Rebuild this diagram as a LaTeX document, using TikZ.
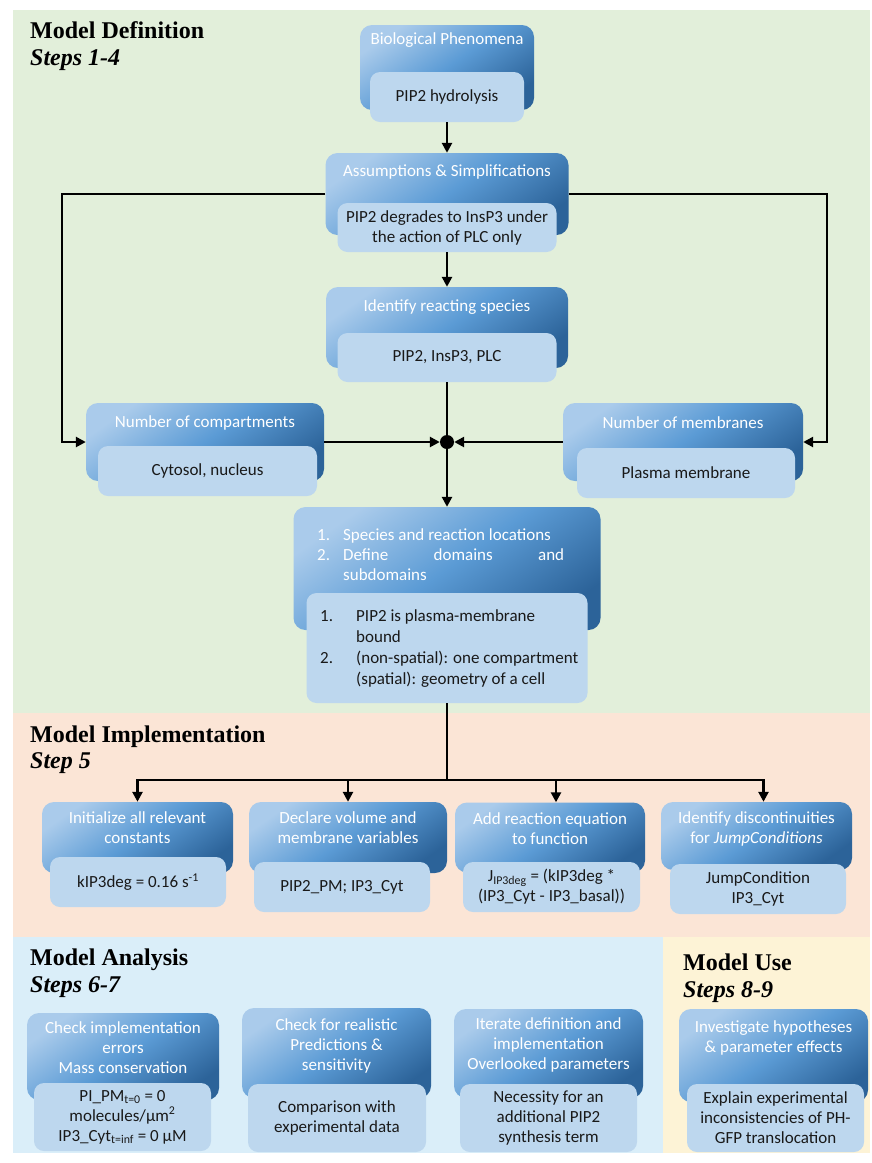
\documentclass[tikz,border=0pt]{standalone}
\usepackage{fontspec}
\setmainfont{Carlito}
\newfontfamily\headfont{Liberation Serif}
\usetikzlibrary{arrows.meta}

\definecolor{defgreen}{HTML}{E2EFDA}
\definecolor{implpeach}{HTML}{FBE5D6}
\definecolor{analblue}{HTML}{DAEEF9}
\definecolor{useyellow}{HTML}{FDF3D6}
\definecolor{hdrtop}{HTML}{AACBEB}
\definecolor{hdrmid}{HTML}{5B9BD5}
\definecolor{hdrbot}{HTML}{2C6399}
\definecolor{bdyblue}{HTML}{BDD7EE}

\begin{document}
\begin{tikzpicture}[x=1pt,y=-1pt,
    hdr/.style={rounded corners=12pt,top color=hdrtop,bottom color=hdrbot,middle color=hdrmid,shading angle=35,inner sep=0pt},
    bdy/.style={rounded corners=10pt,fill=bdyblue,inner sep=0pt,align=center,text=black!90,font=\fontsize{17}{20}\selectfont},
    ttl/.style={text=white,align=center,inner sep=0pt,font=\fontsize{17}{20}\selectfont},
    txt/.style={text=black!90,inner sep=0pt,font=\fontsize{17}{20}\selectfont},
    head/.style={anchor=base west,inner sep=0pt,font=\headfont\bfseries\fontsize{24}{28}\selectfont},
    arr/.style={line width=2.8pt,-{Triangle[length=10pt,width=10pt]}},
    lnk/.style={line width=2.8pt}]
\useasboundingbox (0,0) rectangle (871,1163);

% panels
\fill[defgreen] (13,10) rectangle (870,713);
\fill[implpeach] (13,713) rectangle (870,937);
\fill[analblue] (13,937) rectangle (663,1153);
\fill[useyellow] (663,937) rectangle (870,1153);

\node[head] (h-def) at (30,38) {Model Definition};
\node[head] (s-def) at (30,65) {\itshape Steps 1-4};
\node[head] (h-imp) at (30,742) {Model Implementation};
\node[head] (s-imp) at (30,768) {\itshape Step 5};
\node[head] (h-ana) at (30,965) {Model Analysis};
\node[head] (s-ana) at (30,992) {\itshape Steps 6-7};
\node[head] (h-use) at (683,970) {Model Use};
\node[head] (s-use) at (683,997) {\itshape Steps 8-9};

% model definition
\node[hdr,minimum width=174pt,minimum height=85pt] (bio) at (447,67.5) {};
\node[ttl] (bio-t) at (447,40) {Biological Phenomena};
\node[bdy,minimum width=154pt,minimum height=50pt] (bio-b) at (447,97) {PIP2 hydrolysis};

\node[hdr,minimum width=243pt,minimum height=82pt] (asm) at (447,194) {};
\node[ttl] (asm-t) at (447,172) {Assumptions \& Simplifications};
\node[bdy,minimum width=219pt,minimum height=49pt] (asm-b) at (447,227.5) {PIP2 degrades to InsP3 under\\the action of PLC only};

\node[hdr,minimum width=242pt,minimum height=81pt] (spc) at (447,327.5) {};
\node[ttl] (spc-t) at (447,307) {Identify reacting species};
\node[bdy,minimum width=219pt,minimum height=49pt] (spc-b) at (447,357.5) {PIP2, InsP3, PLC};

\node[hdr,minimum width=238pt,minimum height=78pt] (cmp) at (205,442) {};
\node[ttl] (cmp-t) at (205,423) {Number of compartments};
\node[bdy,minimum width=219pt,minimum height=50pt] (cmp-b) at (207.5,471) {Cytosol, nucleus};

\node[hdr,minimum width=240pt,minimum height=78pt] (mem) at (683,442) {};
\node[ttl] (mem-t) at (683,423) {Number of membranes};
\node[bdy,minimum width=218pt,minimum height=50pt] (mem-b) at (686,473) {Plasma membrane};

\node[fill=black,circle,inner sep=0pt,minimum size=14pt] (jn) at (447,442) {};

\node[hdr,minimum width=307pt,minimum height=123pt] (loc) at (447,568.5) {};
\node[ttl,anchor=west] (loc-t) at (317,556) {\begin{tabular}{@{}p{26pt}@{}l@{}}
1. & Species and reaction locations\\
2. & \makebox[221pt][s]{Define domains and}\\
   & subdomains
\end{tabular}};
\node[bdy,minimum width=281pt,minimum height=110pt] (loc-b) at (447,648) {};
\node[txt,anchor=west] (loc-x) at (320,649) {\renewcommand{\arraystretch}{1.05}\begin{tabular}{@{}p{36pt}@{}l@{}}
1. & PIP2 is plasma-membrane\\
   & bound\\
2. & (non-spatial): one compartment\\
   & (spatial): geometry of a cell
\end{tabular}};

% model implementation
\node[hdr,minimum width=191pt,minimum height=71pt] (ini) at (137.5,837.5) {};
\node[ttl] (ini-t) at (137.5,828) {Initialize all relevant\\constants};
\node[bdy,minimum width=176pt,minimum height=50pt] (ini-b) at (138,882) {kIP3deg = 0.16 s\textsuperscript{-1}};

\node[hdr,minimum width=198pt,minimum height=71pt] (vol) at (348,837.5) {};
\node[ttl] (vol-t) at (348,828) {Declare volume and\\membrane variables};
\node[bdy,minimum width=176pt,minimum height=50pt] (vol-b) at (342,887) {PIP2\_PM; IP3\_Cyt};

\node[hdr,minimum width=190pt,minimum height=70pt] (rxn) at (550,837.5) {};
\node[ttl] (rxn-t) at (550,829) {Add reaction equation\\to function};
\node[bdy,minimum width=177pt,minimum height=50pt] (rxn-b) at (551.5,887) {J\textsubscript{IP3deg} = (kIP3deg *\\(IP3\_Cyt - IP3\_basal))};

\node[hdr,minimum width=191pt,minimum height=68pt] (jmp) at (756.5,836) {};
\node[ttl] (jmp-t) at (756.5,829) {Identify discontinuities\\for \textit{JumpConditions}};
\node[bdy,minimum width=176pt,minimum height=50pt] (jmp-b) at (758,889) {JumpCondition\\IP3\_Cyt};

% model analysis
\node[hdr,minimum width=192pt,minimum height=87pt] (chk) at (123,1056.5) {};
\node[ttl] (chk-t) at (123,1048) {Check implementation\\errors\\Mass conservation};
\node[bdy,minimum width=177pt,minimum height=68pt] (chk-b) at (122.5,1117) {PI\_PM\textsubscript{t=0} = 0\\molecules/μm\textsuperscript{2}\\IP3\_Cyt\textsubscript{t=inf} = 0 μM};

\node[hdr,minimum width=189pt,minimum height=90pt] (prd) at (336.5,1053) {};
\node[ttl] (prd-t) at (336.5,1046) {Check for realistic\\Predictions \&\\sensitivity};
\node[bdy,minimum width=178pt,minimum height=68pt] (prd-b) at (337,1118) {Comparison with\\experimental data};

\node[hdr,minimum width=189pt,minimum height=89pt] (itr) at (548.5,1053.5) {};
\node[ttl] (itr-t) at (548.5,1045) {Iterate definition and\\implementation\\Overlooked parameters};
\node[bdy,minimum width=177pt,minimum height=68pt] (itr-b) at (548.5,1118) {Necessity for an\\additional PIP2\\synthesis term};

% model use
\node[hdr,minimum width=189pt,minimum height=93pt] (hyp) at (773.5,1055.5) {};
\node[ttl] (hyp-t) at (773.5,1038) {Investigate hypotheses\\\& parameter effects};
\node[bdy,minimum width=177pt,minimum height=68pt] (hyp-b) at (775.5,1118) {Explain experimental\\inconsistencies of PH-\\GFP translocation};

% connectors
\coordinate (lft) at (62,442);
\coordinate (rgt) at (827,442);
\coordinate (split) at (447,780);
\draw[arr] (bio-b) -- (asm);
\draw[arr] (asm-b) -- (spc);
\draw[lnk] (spc-b) -- (jn);
\draw[arr] (asm.west) -| (lft) -- (cmp);
\draw[arr] (asm.east) -| (rgt) -- (mem);
\draw[arr] (cmp) -- (jn);
\draw[arr] (mem) -- (jn);
\draw[arr] (jn) -- (loc);
\draw[lnk] (loc-b) -- (split);
\draw[arr] (split) -| (ini);
\draw[arr] (split) -| (vol);
\draw[arr] (split) -| ([xshift=6pt]rxn.north);
\draw[arr] (split) -| ([xshift=7pt]jmp.north);
\end{tikzpicture}
\end{document}
